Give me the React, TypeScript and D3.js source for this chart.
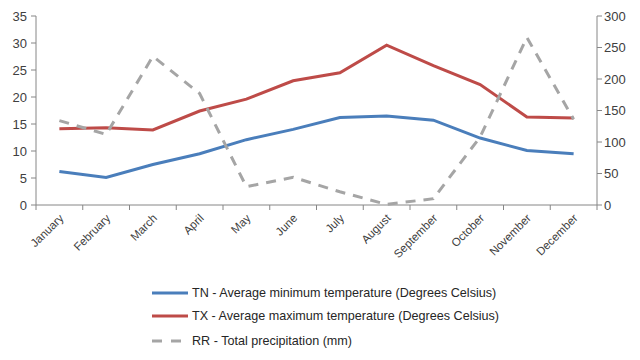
import { useEffect, useRef } from 'react';
import * as d3 from 'd3';

const months = [
  'January', 'February', 'March', 'April', 'May', 'June',
  'July', 'August', 'September', 'October', 'November', 'December',
];
const tnValues = [6.2, 5.1, 7.5, 9.5, 12.1, 14.0, 16.2, 16.5, 15.7, 12.4, 10.1, 9.5];
const txValues = [14.1, 14.3, 13.9, 17.4, 19.6, 23.0, 24.5, 29.6, 25.8, 22.3, 16.3, 16.1];
const rrValues = [134, 112, 236, 177, 29, 44, 21, 1, 10, 108, 266, 136];
const leftTicks = [0, 5, 10, 15, 20, 25, 30, 35];
const rightTicks = [0, 50, 100, 150, 200, 250, 300];

const legendItems = [
  { label: 'TN - Average minimum temperature (Degrees Celsius)', color: '#4a7ebb', dash: '' },
  { label: 'TX - Average maximum temperature (Degrees Celsius)', color: '#be4b48', dash: '' },
  { label: 'RR - Total precipitation (mm)', color: '#a5a5a5', dash: '10,8' },
];

const App = () => {
  const svgRef = useRef<SVGSVGElement>(null);

  useEffect(() => {
    if (!svgRef.current) return;
    const svg = d3.select(svgRef.current);
    svg.selectAll('*').remove();

    const left = 36;
    const right = 597;
    const top = 16;
    const bottom = 205;
    const axisColor = '#868686';
    const textColor = '#404040';
    const font = 'Liberation Sans, Arial, sans-serif';

    const x = d3.scaleBand().domain(months).range([left, right]);
    const yL = d3.scaleLinear().domain([0, 35]).range([bottom, top]);
    const yR = d3.scaleLinear().domain([0, 300]).range([bottom, top]);
    const cx = (m: string) => (x(m) ?? 0) + x.bandwidth() / 2;

    // axes
    svg.append('line').attr('x1', left).attr('x2', left).attr('y1', top).attr('y2', bottom)
      .attr('stroke', axisColor);
    svg.append('line').attr('x1', right).attr('x2', right).attr('y1', top).attr('y2', bottom)
      .attr('stroke', axisColor);
    svg.append('line').attr('x1', left).attr('x2', right).attr('y1', bottom).attr('y2', bottom)
      .attr('stroke', axisColor);

    leftTicks.forEach((t) => {
      svg.append('line').attr('x1', left - 5).attr('x2', left).attr('y1', yL(t)).attr('y2', yL(t))
        .attr('stroke', axisColor);
      svg.append('text').attr('x', 27).attr('y', yL(t)).attr('dy', '0.35em')
        .attr('text-anchor', 'end').attr('font-family', font).attr('font-size', 13)
        .attr('fill', textColor).text(t);
    });
    rightTicks.forEach((t) => {
      svg.append('line').attr('x1', right).attr('x2', right + 5).attr('y1', yR(t)).attr('y2', yR(t))
        .attr('stroke', axisColor);
      svg.append('text').attr('x', 604).attr('y', yR(t)).attr('dy', '0.35em')
        .attr('text-anchor', 'start').attr('font-family', font).attr('font-size', 13)
        .attr('fill', textColor).text(t);
    });
    months.concat(['']).forEach((_, i) => {
      const tx = left + i * x.step();
      svg.append('line').attr('x1', tx).attr('x2', tx).attr('y1', bottom).attr('y2', bottom + 5)
        .attr('stroke', axisColor);
    });
    months.forEach((m) => {
      svg.append('text')
        .attr('transform', `translate(${cx(m) + 2},${bottom + 11}) rotate(-45)`)
        .attr('text-anchor', 'end').attr('dy', '0.35em')
        .attr('font-family', font).attr('font-size', 11.5).attr('fill', textColor).text(m);
    });

    // series
    const lineL = d3.line<number>().x((_, i) => cx(months[i])).y((d) => yL(d));
    const lineR = d3.line<number>().x((_, i) => cx(months[i])).y((d) => yR(d));

    svg.append('path').datum(tnValues).attr('d', lineL).attr('fill', 'none')
      .attr('stroke', legendItems[0].color).attr('stroke-width', 3);
    svg.append('path').datum(txValues).attr('d', lineL).attr('fill', 'none')
      .attr('stroke', legendItems[1].color).attr('stroke-width', 3);
    svg.append('path').datum(rrValues).attr('d', lineR).attr('fill', 'none')
      .attr('stroke', legendItems[2].color).attr('stroke-width', 3)
      .attr('stroke-dasharray', legendItems[2].dash);

    // legend
    const legendY = [293, 316, 341];
    legendItems.forEach((item, i) => {
      svg.append('line').attr('x1', 152).attr('x2', 188).attr('y1', legendY[i]).attr('y2', legendY[i])
        .attr('stroke', item.color).attr('stroke-width', 3)
        .attr('stroke-dasharray', item.dash ? '10,9' : null);
      svg.append('text').attr('x', 192).attr('y', legendY[i]).attr('dy', '0.35em')
        .attr('font-family', font).attr('font-size', 12.6).attr('fill', '#262626').text(item.label);
    });
  }, []);

  return (
    <svg
      ref={svgRef}
      width={640}
      height={360}
      style={{ position: 'absolute', left: 0, top: 0, background: '#fff' }}
    />
  );
};

export default App;
